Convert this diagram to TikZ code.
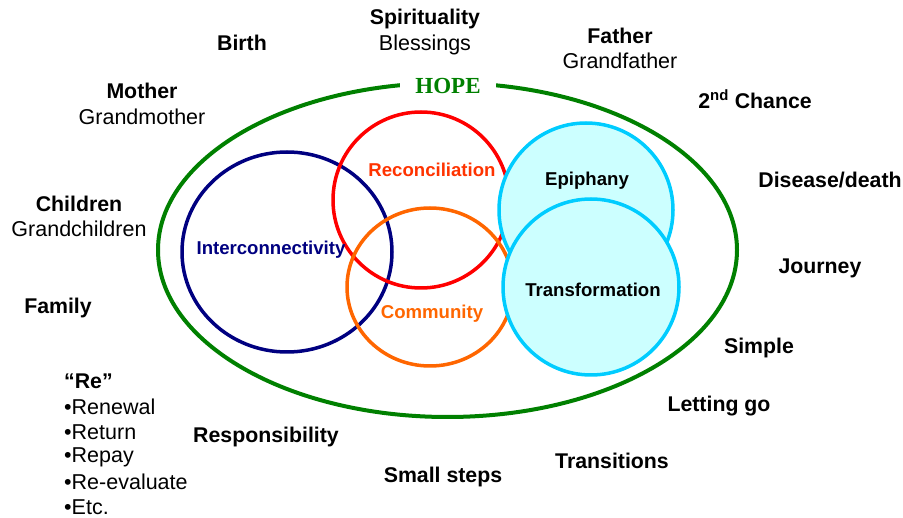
\documentclass[tikz,border=0pt]{standalone}
\usepackage{fontspec}
\setmainfont{Liberation Sans}
\newfontfamily\hopefont{Liberation Serif}
\definecolor{hopegreen}{RGB}{0,128,0}
\definecolor{navyc}{RGB}{0,0,128}
\definecolor{redc}{RGB}{255,0,0}
\definecolor{recred}{RGB}{255,51,0}
\definecolor{orangec}{RGB}{255,102,0}
\definecolor{cyanc}{RGB}{0,204,255}
\definecolor{cyanfill}{RGB}{204,255,255}
\tikzset{
  ring/.style={line width=3.5pt},
  outb/.style={font=\fontsize{21.3}{25}\selectfont\bfseries, inner sep=0pt},
  outr/.style={font=\fontsize{21.5}{25}\selectfont, inner sep=0pt},
  inl/.style={font=\fontsize{18.6}{22}\selectfont\bfseries, inner sep=0pt},
}
\begin{document}
\begin{tikzpicture}[x=1pt,y=-1pt]
\useasboundingbox (0,0) rectangle (903,518);
% outer ellipse
\draw[hopegreen, line width=4pt] (447.5,250) ellipse [x radius=289.5, y radius=167];
\node[fill=white, inner xsep=15pt, inner ysep=2pt, text=hopegreen, font=\fontsize{23}{27}\selectfont\hopefont\bfseries] (hope) at (448,86) {HOPE};
% circles
\draw[ring, navyc] (287,252) ellipse [x radius=105, y radius=100];
\draw[ring, redc] (421,200) circle [radius=88];
\draw[ring, orangec] (430,287) ellipse [x radius=83, y radius=79];
\draw[ring, cyanc, fill=cyanfill] (586,210) circle [radius=87];
\draw[ring, cyanc, fill=cyanfill] (591,287) circle [radius=88];
% circle labels
\node[inl, text=navyc] (inter) at (271,250) {Interconnectivity};
\node[inl, text=recred] (recon) at (432,170) {Reconciliation};
\node[inl, text=orangec] (comm) at (432,314) {Community};
\node[inl] (epi) at (587,181) {Epiphany};
\node[inl] (trans) at (593,290) {Transformation};
% outer labels
\node[outb] (birth) at (242,43) {Birth};
\node[outb] (spirit) at (425,19) {Spirituality};
\node[outr] (bless) at (425,45) {Blessings};
\node[outb] (father) at (620,36) {Father};
\node[outr] (gfather) at (620,61) {Grandfather};
\node[outb] (mother) at (142,91) {Mother};
\node[outr] (gmother) at (142,117) {Grandmother};
\node[outb] (chance) at (755,99) {2\textsuperscript{nd} Chance};
\node[outb] (disease) at (830,180) {Disease/death};
\node[outb] (children) at (79,204) {Children};
\node[outr] (gchildren) at (79,229) {Grandchildren};
\node[outb] (journey) at (820,268) {Journey};
\node[outb] (family) at (58,308) {Family};
\node[outb] (simple) at (759,348) {Simple};
\node[outb] (letting) at (719,406) {Letting go};
\node[outb] (resp) at (266,437) {Responsibility};
\node[outb] (transit) at (612,461) {Transitions};
\node[outb] (small) at (443,477) {Small steps};
\node[outb, anchor=west] (re) at (64,381) {“Re”};
\node[outr, anchor=west] (r1) at (64,407) {•Renewal};
\node[outr, anchor=west] (r2) at (64,432) {•Return};
\node[outr, anchor=west] (r3) at (64,457) {•Repay};
\node[outr, anchor=west] (r4) at (64,482) {•Re-evaluate};
\node[outr, anchor=west] (r5) at (64,507) {•Etc.};
\end{tikzpicture}
\end{document}
